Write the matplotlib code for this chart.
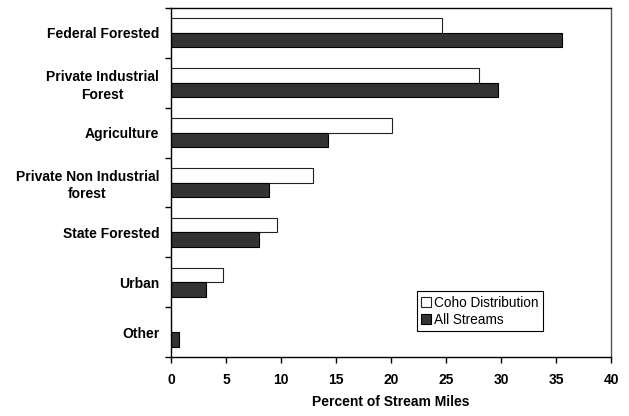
import matplotlib
matplotlib.use("Agg")
import matplotlib.pyplot as plt
import numpy as np

categories = ["Federal Forested", "Private Industrial\nForest", "Agriculture",
              "Private Non Industrial\nforest", "State Forested", "Urban", "Other"]
coho = [24.6, 28.0, 20.1, 12.9, 9.6, 4.7, 0.0]
all_streams = [35.5, 29.7, 14.3, 8.9, 8.0, 3.15, 0.7]
xticks = [0, 5, 10, 15, 20, 25, 30, 35, 40]

plt.rcParams['font.family'] = ['Liberation Sans', 'DejaVu Sans']

fig = plt.figure(figsize=(6.29, 4.16), dpi=100)
ax = fig.add_axes([171/629, 1 - 357/416, 440/629, 349/416])

y = np.arange(len(categories))
h = 0.29
ax.barh(y - h/2, coho, height=h, color='white', edgecolor='#222222', linewidth=0.8,
        label='Coho Distribution')
ax.barh(y + h/2, all_streams, height=h, color='#333333', edgecolor='black', linewidth=0.8,
        label='All Streams')

ax.set_ylim(len(categories) - 0.5, -0.5)
ax.set_xlim(0, 40)
ax.set_xticks(xticks)
ax.set_xticklabels([str(t) for t in xticks], fontsize=10, fontweight='bold')
ax.set_yticks(y)
ax.set_yticklabels(categories, fontsize=10, fontweight='bold')
for lab in ax.get_yticklabels():
    lab.set_multialignment('center')
    lab.set_linespacing(1.3)
ax.set_yticks(np.arange(-0.5, len(categories) + 0.5, 1), minor=True)
ax.tick_params(axis='y', which='major', length=0, pad=8.5)
ax.tick_params(axis='y', which='minor', length=4, direction='out', width=1)
ax.tick_params(axis='x', which='major', length=4, direction='out', width=1, pad=7.5)

for s in ax.spines.values():
    s.set_linewidth(1.0)
ax.spines['right'].set_color('#555555')
ax.spines['top'].set_color('black')

ax.set_xlabel('Percent of Stream Miles', fontsize=10, fontweight='bold', labelpad=5.5)

leg = ax.legend(loc='lower left', bbox_to_anchor=((417 - 171)/440, (357 - 331)/349),
                fontsize=9.8, frameon=True, fancybox=False, framealpha=1,
                edgecolor='black', handlelength=0.75, handleheight=0.75,
                handletextpad=0.2, borderpad=0.3, labelspacing=0.25, borderaxespad=0)
leg.get_frame().set_linewidth(0.8)

fig.savefig('out.png', dpi=100)
